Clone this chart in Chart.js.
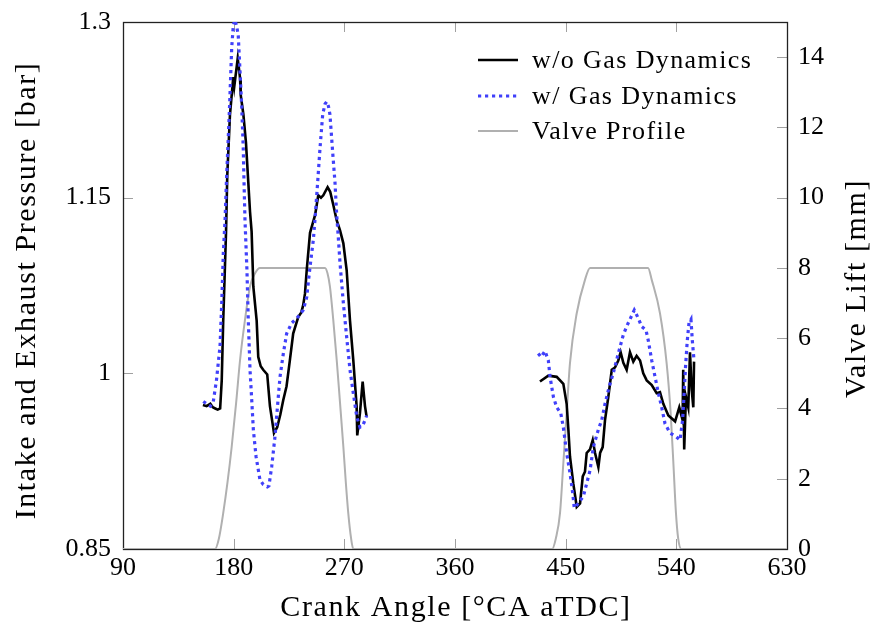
<!DOCTYPE html>
<html>
<head>
<meta charset="utf-8">
<script src="https://cdn.jsdelivr.net/npm/chart.js@4/dist/chart.umd.min.js"></script>
<style>
  html, body { margin: 0; padding: 0; background: #fff; }
  #wrap { width: 877px; height: 631px; }
</style>
</head>
<body>
<div id="wrap"><canvas id="c" width="877" height="631"></canvas></div>
<script>
// Crank angle tick values and axis ticks
const angleTicks = [90, 180, 270, 360, 450, 540, 630];
const pressureTicks = [0.85, 1, 1.15, 1.3];
const liftTicks = [0, 2, 4, 6, 8, 10, 12, 14];

// Axis titles
const xTitle = 'Crank Angle [°CA aTDC]';
const yTitle = 'Intake and Exhaust Pressure [bar]';
const y2Title = 'Valve Lift [mm]';

// w/o gas dynamics: exhaust window
const noGdExhAngle = [155, 158, 161, 163, 165, 167, 169, 170.3, 171.5, 173.8, 174.8, 177, 179.7, 180.5, 183.3, 185.2, 185.7, 187.9, 190, 191.9, 193.3, 194.6, 196, 198.7, 200, 202, 204, 207.3, 209.5, 212.8, 215.4, 218, 220.3, 223, 225.7, 228.4, 232.5, 235, 236.5, 238, 239.4, 242.1, 246.2, 248.8, 251, 252.9, 256.4, 258.5, 261, 263.7, 266.5, 269.2, 271.9, 274.6, 277.3, 280, 280.5, 282.7, 284.9, 286.8, 288.1];
const noGdExhBar   = [0.973, 0.972, 0.974, 0.971, 0.970, 0.969, 0.970, 0.994, 1.045, 1.121, 1.169, 1.221, 1.253, 1.245, 1.269, 1.252, 1.238, 1.221, 1.197, 1.163, 1.138, 1.121, 1.074, 1.045, 1.014, 1.006, 1.003, 0.999, 0.972, 0.949, 0.954, 0.965, 0.977, 0.989, 1.011, 1.034, 1.048, 1.052, 1.058, 1.068, 1.088, 1.120, 1.135, 1.152, 1.150, 1.152, 1.159, 1.155, 1.144, 1.131, 1.122, 1.111, 1.088, 1.045, 1.011, 0.972, 0.947, 0.966, 0.993, 0.972, 0.963];

// w/o gas dynamics: intake window
const noGdIntAngle = [429.1, 435.9, 442.7, 448.1, 450.8, 452.2, 453.5, 456.2, 459, 461.7, 463.9, 465.7, 467.1, 469.8, 472, 473.9, 476.6, 478, 480.1, 482, 484.7, 487.5, 490.1, 492.8, 494.7, 496.9, 499.6, 502.3, 505, 507.7, 510.5, 513.1, 515.9, 520, 524, 526.7, 529.4, 533.5, 539, 542.4, 545.1, 545.6, 546.4, 547.8, 549.7, 551.1, 552.5, 553.8, 554.4];
const noGdIntBar   = [0.993, 0.998, 0.997, 0.991, 0.974, 0.952, 0.929, 0.906, 0.886, 0.889, 0.912, 0.916, 0.932, 0.935, 0.943, 0.932, 0.920, 0.932, 0.937, 0.960, 0.980, 1.003, 1.005, 1.011, 1.018, 1.009, 1.003, 1.018, 1.010, 1.015, 1.011, 1.000, 0.994, 0.990, 0.983, 0.984, 0.974, 0.964, 0.959, 0.971, 0.960, 1.003, 0.935, 0.980, 0.971, 1.018, 0.986, 0.971, 1.010];

// w/ gas dynamics: exhaust window
const gdExhAngle = [155.3, 158, 161, 163.3, 166, 168.9, 170.3, 171.6, 173, 174.3, 176.4, 177.6, 178.4, 179.7, 181, 182.5, 183.7, 184.5, 186.5, 187.8, 188.4, 189.2, 190.8, 191.9, 193.3, 194.7, 196, 198.2, 201.4, 204.1, 207.4, 208.7, 210.9, 213.6, 216.3, 217.7, 220.4, 223.1, 227.2, 231.3, 236.6, 239.4, 242.1, 244.8, 246.1, 248.3, 250.2, 252.4, 254.3, 255.7, 257.1, 258.3, 260.5, 262.4, 263.8, 265.1, 266.5, 269.2, 271.9, 274.6, 277.3, 280.1, 282.7, 285.2, 286.8, 288.2];
const gdExhBar   = [0.976, 0.974, 0.972, 0.975, 0.994, 1.023, 1.060, 1.103, 1.131, 1.169, 1.221, 1.255, 1.278, 1.297, 1.302, 1.296, 1.289, 1.272, 1.229, 1.192, 1.164, 1.131, 1.088, 1.045, 1.003, 0.977, 0.952, 0.929, 0.909, 0.905, 0.903, 0.904, 0.920, 0.946, 0.980, 0.997, 1.017, 1.034, 1.043, 1.047, 1.054, 1.065, 1.091, 1.114, 1.131, 1.163, 1.192, 1.221, 1.230, 1.232, 1.228, 1.221, 1.189, 1.163, 1.135, 1.116, 1.094, 1.060, 1.031, 1.003, 0.983, 0.963, 0.954, 0.956, 0.960, 0.964];

// w/ gas dynamics: intake window
const gdIntAngle = [427.7, 430, 433.2, 435.9, 437.3, 440, 442.7, 446, 448.1, 450.8, 453.5, 455.7, 457, 460.3, 464.4, 467.1, 469.8, 472.5, 476.6, 479.3, 482, 485.5, 488.7, 492.8, 496.9, 500.9, 505.8, 509.1, 511.8, 515.3, 517.2, 520, 522.7, 525.4, 528.1, 530.8, 534.9, 539.8, 543, 545.1, 546.2, 547.5, 548.9, 550.3, 551.9, 553, 554.4];
const gdIntBar   = [1.017, 1.014, 1.019, 1.011, 0.997, 0.980, 0.971, 0.966, 0.954, 0.932, 0.915, 0.898, 0.885, 0.889, 0.895, 0.906, 0.917, 0.937, 0.952, 0.960, 0.974, 0.989, 1.000, 1.017, 1.033, 1.043, 1.054, 1.047, 1.040, 1.037, 1.028, 1.011, 0.997, 0.983, 0.971, 0.957, 0.949, 0.946, 0.943, 0.960, 0.980, 1.006, 1.028, 1.043, 1.046, 1.028, 1.011];

// Valve lift profile (exhaust then intake)
const valveAngle = [90, 164.8, 168, 171.5, 175, 178.4, 182, 185.2, 189.2, 193.3, 197.4, 201.4, 254.3, 256.3, 258.3, 261, 263.8, 266.5, 269.2, 271.2, 273.2, 275.5, 277.3, 439, 442, 445.4, 448.1, 450.8, 453.5, 459, 465.7, 469.8, 517, 520, 526.7, 532.1, 535.4, 537.6, 539.7, 541.5, 544, 630];
const valveLift  = [0, 0, 0.3, 1.02, 1.9, 2.91, 4.16, 5.38, 6.52, 7.47, 7.85, 8, 8, 7.85, 7.47, 6.52, 5.38, 4.16, 2.91, 1.9, 1.02, 0.3, 0, 0, 0.3, 1.02, 2.44, 3.86, 5.29, 6.71, 7.66, 8, 8, 7.66, 6.71, 5.29, 3.86, 2.44, 1.02, 0.3, 0, 0];

const FONT = '"Liberation Serif", "DejaVu Serif", serif';
const TICK_SIZE = 26;

function pts(xs, ys) { return xs.map((x, i) => ({ x: x, y: ys[i] })); }
function twoWindows(xa, ya, xb, yb) {
  return pts(xa, ya).concat([{ x: 360, y: null }], pts(xb, yb));
}

// Axis frame and inward tick marks
const framePlugin = {
  id: 'frame',
  beforeDatasetsDraw(chart) {
    const { ctx, chartArea: a, scales } = chart;
    ctx.save();
    ctx.strokeStyle = '#a0a0a0';
    ctx.lineWidth = 1;
    const L = 10;
    ctx.beginPath();
    scales.x.ticks.forEach(t => {
      const px = Math.round(scales.x.getPixelForValue(t.value)) + 0.5;
      if (px <= a.left + 1 || px >= a.right - 1) return;
      ctx.moveTo(px, a.bottom); ctx.lineTo(px, a.bottom - L);
      ctx.moveTo(px, a.top); ctx.lineTo(px, a.top + L);
    });
    scales.y.ticks.forEach(t => {
      const py = Math.round(scales.y.getPixelForValue(t.value)) + 0.5;
      if (py <= a.top + 1 || py >= a.bottom - 1) return;
      ctx.moveTo(a.left, py); ctx.lineTo(a.left + L, py);
    });
    scales.y2.ticks.forEach(t => {
      const py = Math.round(scales.y2.getPixelForValue(t.value)) + 0.5;
      if (py <= a.top + 1 || py >= a.bottom - 1) return;
      ctx.moveTo(a.right, py); ctx.lineTo(a.right - L, py);
    });
    ctx.stroke();
    ctx.strokeStyle = '#222';
    ctx.lineWidth = 1.3;
    ctx.strokeRect(Math.round(a.left) + 0.5, Math.round(a.top) + 0.5,
                   Math.round(a.right - a.left), Math.round(a.bottom - a.top));
    ctx.restore();
  }
};

// Axis titles and the legend inside the plot, upper right
const textPlugin = {
  id: 'texts',
  afterDatasetsDraw(chart) {
    const { ctx, chartArea: a } = chart;
    ctx.save();
    ctx.fillStyle = '#000';

    // legend
    const x0 = a.right - 309, x1 = a.right - 269, tx = a.right - 255;
    const rows = [a.top + 38, a.top + 74, a.top + 109];
    ctx.font = TICK_SIZE + 'px ' + FONT;
    ctx.letterSpacing = '1.4px';
    ctx.textBaseline = 'middle';
    ctx.textAlign = 'left';
    chart.data.datasets.forEach((ds, i) => {
      const y = rows[i];
      ctx.strokeStyle = ds.borderColor;
      ctx.lineWidth = ds.borderWidth;
      ctx.lineCap = 'butt';
      ctx.setLineDash(ds.borderDash || []);
      ctx.beginPath(); ctx.moveTo(x0, y); ctx.lineTo(x1, y); ctx.stroke();
      ctx.setLineDash([]);
      ctx.fillText(ds.label, tx, y + 1);
    });

    // axis titles
    ctx.font = '30px ' + FONT;
    ctx.letterSpacing = '1.6px';
    ctx.textAlign = 'center';
    ctx.textBaseline = 'middle';
    const cx = (a.left + a.right) / 2, cy = (a.top + a.bottom) / 2;
    ctx.fillText(xTitle, cx + 1, 608);
    ctx.save();
    ctx.translate(27, cy + 5);
    ctx.rotate(-Math.PI / 2);
    ctx.fillText(yTitle, 0, 0);
    ctx.restore();
    ctx.save();
    ctx.translate(857, cy + 3);
    ctx.rotate(-Math.PI / 2);
    ctx.fillText(y2Title, 0, 0);
    ctx.restore();
    ctx.restore();
  }
};

new Chart(document.getElementById('c'), {
  type: 'line',
  data: {
    datasets: [
      {
        label: 'w/o Gas Dynamics',
        data: twoWindows(noGdExhAngle, noGdExhBar, noGdIntAngle, noGdIntBar),
        borderColor: '#000000', borderWidth: 2.6, yAxisID: 'y', order: 1,
        pointRadius: 0, tension: 0, spanGaps: false
      },
      {
        label: 'w/ Gas Dynamics',
        data: twoWindows(gdExhAngle, gdExhBar, gdIntAngle, gdIntBar),
        borderColor: 'rgb(64,64,250)', borderWidth: 3.2, borderDash: [3.2, 3.8],
        borderCapStyle: 'butt', yAxisID: 'y', order: 0,
        pointRadius: 0, tension: 0, spanGaps: false
      },
      {
        label: 'Valve Profile',
        data: pts(valveAngle, valveLift),
        borderColor: '#b0b0b0', borderWidth: 2, yAxisID: 'y2', order: 2,
        pointRadius: 0, cubicInterpolationMode: 'monotone'
      }
    ]
  },
  options: {
    responsive: false,
    animation: false,
    devicePixelRatio: 1,
    layout: { padding: { top: 22, left: 0, right: 0, bottom: 0 } },
    plugins: { legend: { display: false }, tooltip: { enabled: false } },
    scales: {
      x: {
        type: 'linear', min: 90, max: 630,
        afterBuildTicks: s => { s.ticks = angleTicks.map(v => ({ value: v })); },
        afterFit: s => { s.height = 82; },
        grid: { display: false, drawTicks: false },
        border: { display: false },
        ticks: { color: '#000', padding: 4, font: { family: FONT, size: TICK_SIZE }, callback: v => String(v) }
      },
      y: {
        type: 'linear', position: 'left', min: 0.85, max: 1.3,
        afterBuildTicks: s => { s.ticks = pressureTicks.map(v => ({ value: v })); },
        afterFit: s => { s.width = 123; },
        grid: { display: false, drawTicks: false },
        border: { display: false },
        ticks: { color: '#000', padding: 12, font: { family: FONT, size: TICK_SIZE, lineHeight: 0.6 }, callback: v => String(v) }
      },
      y2: {
        type: 'linear', position: 'right', min: 0, max: 15,
        afterBuildTicks: s => { s.ticks = liftTicks.map(v => ({ value: v })); },
        afterFit: s => { s.width = 90; },
        grid: { display: false, drawTicks: false },
        border: { display: false },
        ticks: { color: '#000', padding: 11, font: { family: FONT, size: TICK_SIZE, lineHeight: 0.6 }, callback: v => String(v) }
      }
    }
  },
  plugins: [framePlugin, textPlugin]
});
</script>
</body>
</html>
